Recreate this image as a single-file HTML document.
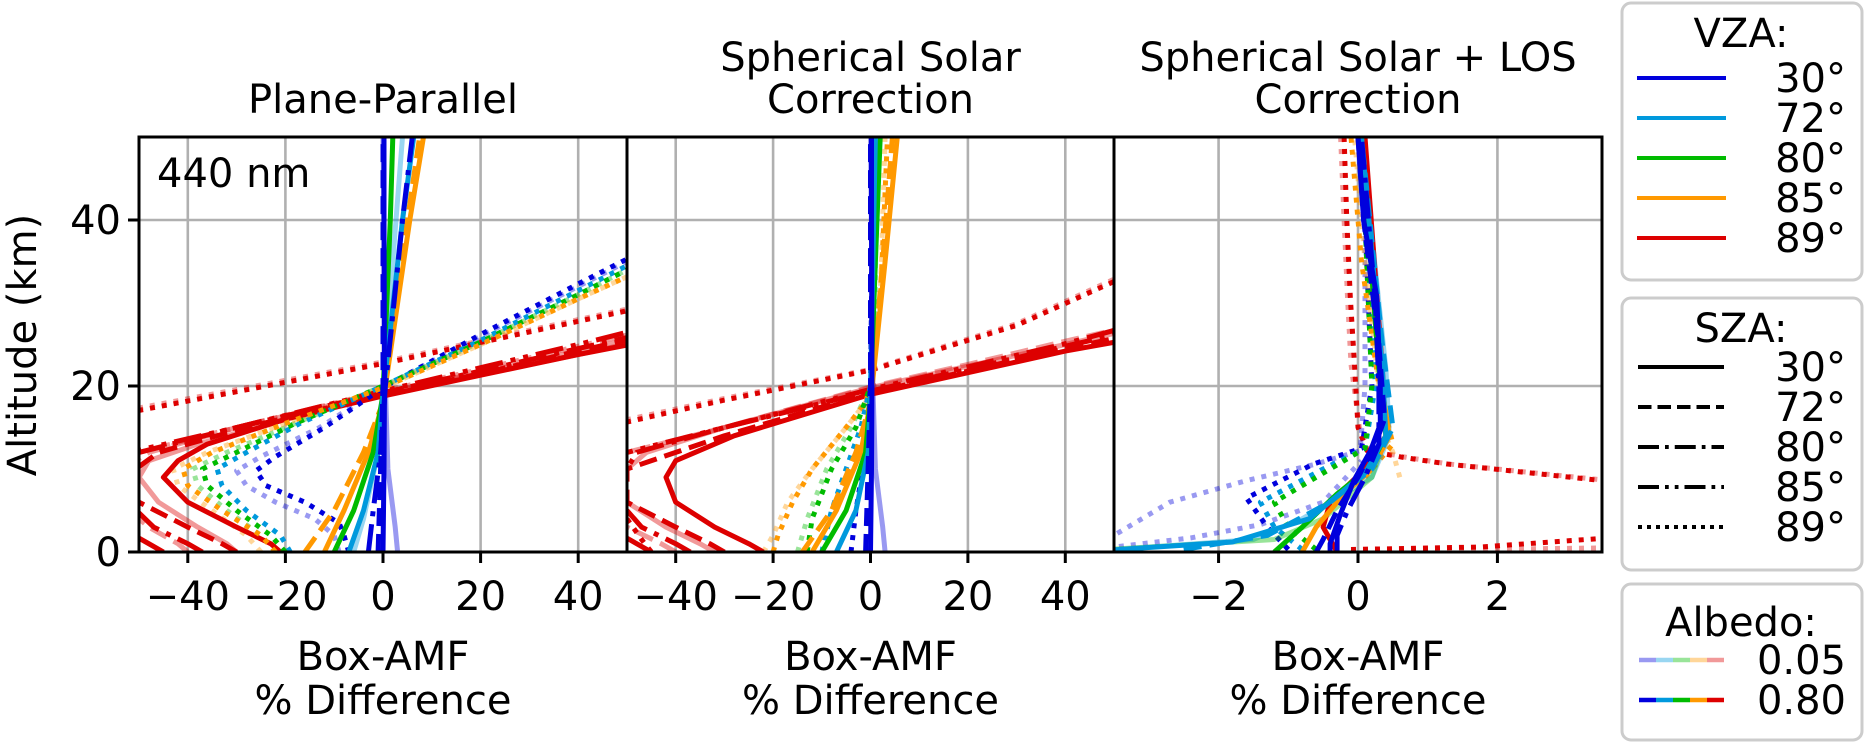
<!DOCTYPE html>
<html><head><meta charset="utf-8">
<style>
html,body{margin:0;padding:0;background:#fff;}
svg{display:block;font-family:"DejaVu Sans","Liberation Sans",sans-serif;}
</style></head>
<body>
<svg id="chart" width="1866" height="745" viewBox="0 0 1866 745" xmlns="http://www.w3.org/2000/svg">
<defs>
<clipPath id="c0"><rect x="139" y="137" width="488" height="415"/></clipPath>
<clipPath id="c1"><rect x="627" y="137" width="487" height="415"/></clipPath>
<clipPath id="c2"><rect x="1114" y="137" width="488" height="415"/></clipPath>
</defs>
<g id="grid"></g>
<g id="curves"></g>
<g id="axes"></g>
<g id="legend"></g>
</svg>
<script>
// ---------- data ----------
const panelTitles = [["Plane-Parallel"],["Spherical Solar","Correction"],["Spherical Solar + LOS","Correction"]];
const panelXTicks = [[-40,-20,0,20,40],[-40,-20,0,20,40],[-2,0,2]];
const yTicks = [0,20,40];
const vzaLabels = ["30°","72°","80°","85°","89°"];
const szaLabels = ["30°","72°","80°","85°","89°"];
const albedoLabels = ["0.05","0.80"];
// curves: [vzaIndex, szaIndex, albedoIndex(0=0.05,1=0.80), values, altitudes]
const panel1Curves = [
 [4,0,0,[-30,-32,-38,-46,-50,-48,-38,-20,0,20,40,55],[0,1,3,6,9,11,13,16,19,21.4,23.8,25.7]],
 [4,1,0,[-40,-42,-48,-54,-56,-48,-30,0,20,40,55],[0,1,3,6,9,12,15,19.2,21.6,24.2,26.2]],
 [4,3,0,[-45,-48,-54,-58,-50,-30,0,20,40,55],[0,1,3,7,12,15,19.4,22,24.8,26.8]],
 [4,4,0,[-55,0,55],[16.8,22.9,29.9]],
 [0,4,0,[-9,-10,-14,-22,-28,-30,-25,-13,0,20,40,55],[0,2,4,6,8,9.8,11.5,15,19.9,26,32,36.5]],
 [2,4,0,[-22,-25,-32,-38,-39,-32,-18,0,20,40,55],[0,2,5,8,10,12,15.5,20,25.3,31,35.5]],
 [3,4,0,[-25,-28,-35,-42,-43,-36,-20,0,20,40,55],[0,2,5,8,10,12,15.5,19.8,25,30.5,34.5]],
 [0,0,0,[3,2.5,1,0.5,0],[0,3,10,20,50]],
 [1,0,0,[-6,-4,-1,0,4],[0,4,12,20,50]],
 [4,0,1,[-21,-23,-30,-40,-45,-42,-36,-20,0,20,40,55],[0,1,3,6,9,11,13,16,18.8,21.3,23.8,25.5]],
 [4,1,1,[-30,-33,-40,-50,-53,-46,-28,0,20,40,55],[0,1,3,6,9,12,15,19,21.5,24.2,26.2]],
 [4,2,1,[-37,-40,-47,-54,-50,-30,0,20,40,55],[0,1,3,7,12,15,19.2,21.8,24.5,26.5]],
 [4,3,1,[-45,-48,-54,-58,-52,-30,0,20,40,55],[0,1,3,7,12,15,19.4,22.2,25,27.2]],
 [4,4,1,[-55,0,55],[16.5,22.7,29.7]],
 [0,4,1,[-7,-8,-9,-16,-24,-26,-22,-12,0,20,40,55],[0,2,3.5,6,8,9.8,11.5,15,19.8,26.2,32.3,36.8]],
 [1,4,1,[-19,-21,-28,-33,-34,-28,-17,0,20,40,55],[0,2,5,8,10,12,15.5,20,25.5,31.5,36]],
 [2,4,1,[-20,-23,-30,-36,-37,-30,-18,0,20,40,55],[0,2,5,8,10,12,15.5,20,25.3,31,35.5]],
 [3,4,1,[-22,-25,-33,-40,-41,-35,-20,0,20,40,55],[0,2,5,8,10,12,15.5,19.8,25,30.5,34.5]],
 [3,0,1,[-12,-8,-3,0,5.5,8.3],[0,5,12,18,40,50]],
 [3,1,1,[-16,-10,-4,0,5,7.5],[0,5,12,18,40,50]],
 [2,0,1,[-10,-6,-2,0,1.5,2],[0,5,12,19,40,50]],
 [1,0,1,[-7,-4,-1,0,4,6.3],[0,5,12,19,40,50]],
 [0,2,1,[-3,-2,-0.5,0.5,4,6],[0,5,12,20,40,50]],
 [0,0,1,[0,0.2,0.3,0.2,0.2],[0,10,20,40,50]],
 [0,1,1,[-1,-0.5,0,0,0],[0,10,20,40,50]]
];
const panel2Curves = [
 [4,0,0,[-32,-35,-42,-50,-52,-46,-30,0,20,40,55],[0,1,3,6,9,12,15,19.8,22.4,25,27]],
 [4,1,0,[-40,-43,-50,-56,-50,-30,0,20,40,55],[0,1,3,7,12,15,19.9,22.6,25.4,27.4]],
 [4,4,0,[-55,-30,0,30,55],[15.3,18.5,22,27.5,34.2]],
 [4,4,1,[-55,-30,0,30,55],[15,18.3,21.9,27.3,33.9]],
 [4,4,1,[-50,-47,-45],[4,1.5,0]],
 [3,4,0,[-22,-20,-17,-12,-5,-1,0,2,3],[0,2,6,10,15,18,20,30,50]],
 [2,4,0,[-15,-13,-9,-4,0,1,1],[0,4,10,15,20,30,50]],
 [0,0,0,[3,2.5,1,0.5,0],[0,3,10,20,50]],
 [4,0,1,[-22,-25,-32,-40,-42,-40,-28,0,20,40,55],[0,1,3,6,9,11,14,19,21.6,24.2,25.8]],
 [4,1,1,[-30,-33,-40,-50,-50,-30,0,20,40,55],[0,1,3,6,10,14,19.2,21.8,24.5,26.3]],
 [4,2,1,[-37,-40,-47,-53,-48,-30,0,20,40,55],[0,1,3,7,12,15,19.4,22,24.8,26.8]],
 [4,3,1,[-45,-48,-54,-58,-50,-30,0,20,40,55],[0,1,3,7,12,15,19.6,22.3,25.1,27.5]],
 [3,4,1,[-20,-19,-16,-12,-5,-1,0,2,3.5],[0,2,6,10,15,18,20,30,50]],
 [2,4,1,[-13,-12,-8,-3,0,0.5,1],[0,4,10,15,20,30,50]],
 [1,4,1,[-10,-8,-5,-2,0,0.5,0.5],[0,5,10,15,20,30,50]],
 [0,4,1,[-4,-3,-1,0,0.2,0.2],[0,5,12,20,30,50]],
 [3,0,1,[-12,-7,-2,0,3,5.5],[0,5,12,18,35,50]],
 [3,1,1,[-14,-8,-3,0,2.5,4.5],[0,5,12,18,35,50]],
 [2,0,1,[-10,-5,-1,0,1,2],[0,5,12,19,35,50]],
 [1,0,1,[-7,-3,-0.5,0,0.5,1],[0,5,12,19,35,50]],
 [0,0,1,[0,0.2,0.3,0.2,0.2],[0,10,20,40,50]],
 [0,1,1,[-1,-0.5,0,0,0],[0,10,20,40,50]]
];
const panel3Curves = [
 [4,4,1,[-0.2,-0.16,-0.11,-0.05,0.0,0.13,0.65,1.28,3.6],[50,40,30.7,22.6,15,12.2,11.4,10.6,8.5]],
 [4,4,0,[-0.25,-0.2,-0.15,-0.1,0.02,0.2,0.7,1.3,3.6],[50,40,30.7,22.6,15,12.2,11.4,10.6,8.6]],
 [4,4,1,[-0.1,0.5,1.76,3.6],[0.3,0.4,0.6,1.7]],
 [4,4,0,[-0.1,1.0,2.5,3.6],[0.2,0.3,0.4,0.5]],
 [0,4,0,[-3.6,-3.0,-2.7,-1.6,-0.6,0.03,0.1,0.1],[1.5,4.5,6,8.6,10.6,12.2,20,50]],
 [0,4,0,[-3.6,-2.4,-1.4,-0.5,0.05],[0.5,1.7,3.3,6,11]],
 [0,4,1,[-1.0,-1.3,-1.6,-0.64,0.05,0.2,0.05],[0.3,3,6.5,10.6,12.5,20,50]],
 [1,4,1,[-0.8,-1.2,-1.4,-0.5,0.1,0.25,0.05],[0.3,3,6,10,12.5,20,50]],
 [2,4,1,[-0.6,-1.0,-1.2,-0.4,0.1,0.2,0.05],[0.3,3,6,10,12.5,20,50]],
 [3,4,0,[0.6,0.5,0.4,0.3,0.1,-0.05],[9,12,14,20,35,50]],
 [3,4,1,[0.1,0.3,0.5,0.3,0.05,-0.1],[9,11,13,20,35,50]],
 [1,0,0,[-3.6,-1.5,-0.8,0.2,0.45,0.4,0.05],[0.2,1.5,4,9,14,22,50]],
 [2,0,0,[-3.6,-1.2,-0.5,0.2,0.4,0.3,0.05],[0.3,1.5,4,9,14,22,50]],
 [4,0,1,[-0.3,-0.5,-0.4,0.1,0.4,0.35,0.1],[0,3,6,10,14,22,50]],
 [3,0,1,[-0.8,-0.6,-0.2,0.2,0.45,0.3,0.05],[0,3,7,10,14,22,50]],
 [2,0,1,[-1.2,-0.8,-0.3,0.15,0.4,0.3,0.05],[0,3,7,10,14,22,50]],
 [1,0,1,[-3.6,-1.8,-0.7,0.1,0.4,0.35,0.05],[0.2,1.2,4,9.5,14,22,50]],
 [1,1,1,[-2.5,-1.3,-0.4,0.2,0.5,0.35,0.05],[0.3,2,6,10,15,25,50]],
 [0,0,1,[-0.4,-0.4,-0.25,-0.06,0.18,0.32,0.32,0.27,0.08,0.0],[0,1,4.6,8.6,12.2,15.4,20,30.7,40,50]],
 [0,1,1,[-0.6,-0.5,-0.3,0.0,0.25,0.38,0.3,0.08,0.0],[0,1.5,5,9,13,16,25,40,50]],
 [0,2,1,[-0.3,-0.3,-0.15,0.1,0.3,0.3,0.25,0.05],[0,2,5,9,13,20,30,50]]
];
const allPanels = [panel1Curves, panel2Curves, panel3Curves];

// ---------- styling / scales ----------
const NS = "http://www.w3.org/2000/svg";
const FS = 40;
const colors = ["#0000dd","#0099dd","#00bb00","#ff9900","#dd0000"];
const dashes = ["", "18,8", "28,8,5,8", "28,8,5,8,5,8", "5,7"];
const panelsPx = [{x0:139,x1:627,d0:-50,d1:50},{x0:627,x1:1114,d0:-50,d1:50},{x0:1114,x1:1602,d0:-3.5,d1:3.5}];
const Y0 = 552, Y1 = 137;
function yScale(km){ return Y0 + (Y1 - Y0) * km / 50; }
function xScale(p, v){ const P = panelsPx[p]; return P.x0 + (P.x1 - P.x0) * (v - P.d0) / (P.d1 - P.d0); }
function mk(tag, attrs, parent){ const e = document.createElementNS(NS, tag); for (const k in attrs) e.setAttribute(k, attrs[k]); parent.appendChild(e); return e; }

const grid = document.getElementById("grid");
const curvesG = document.getElementById("curves");
const axes = document.getElementById("axes");
const legend = document.getElementById("legend");

for (let p = 0; p < 3; p++) {
  const P = panelsPx[p];
  panelXTicks[p].forEach(t => {
    const x = xScale(p, t);
    const gl = mk("line", {x1:x, x2:x, y1:Y1, y2:Y0, stroke:"#b0b0b0", "stroke-width":2.6}, grid);
    
    
  });
  yTicks.forEach(t => {
    const y = yScale(t);
    const gl = mk("line", {x1:P.x0, x2:P.x1, y1:y, y2:y, stroke:"#b0b0b0", "stroke-width":2.6}, grid);
    
    
  });
  const g = mk("g", {"clip-path":"url(#c"+p+")"}, curvesG);
  
  
  allPanels[p].forEach(c => {
    const [vi, si, ai, vals, alts] = c;
    let d = "";
    for (let i = 0; i < vals.length; i++) d += (i ? "L" : "M") + xScale(p, vals[i]).toFixed(1) + "," + yScale(alts[i]).toFixed(1);
    const path = mk("path", {d:d, fill:"none", stroke:colors[vi], "stroke-width":5, "stroke-opacity": ai ? 1 : 0.4, "stroke-linejoin":"round"}, g);
    if (dashes[si]) path.setAttribute("stroke-dasharray", dashes[si]);
    
    
  });
  const fr = mk("rect", {x:P.x0, y:Y1, width:P.x1-P.x0, height:Y0-Y1, fill:"none", stroke:"#000", "stroke-width":3}, axes);
  
  
  panelXTicks[p].forEach(t => {
    const x = xScale(p, t);
    const tk = mk("line", {x1:x, x2:x, y1:Y0, y2:Y0+11, stroke:"#000", "stroke-width":3}, axes);
    
    
    const tl = mk("text", {x:x, y:610, "font-size":FS, "text-anchor":"middle"}, axes);
    tl.textContent = t < 0 ? "\u2212" + Math.abs(t) : String(t);
    
    
  });
  const cx = (P.x0 + P.x1) / 2;
  const xl1 = mk("text", {x:cx, y:670, "font-size":FS, "text-anchor":"middle"}, axes);
  xl1.textContent = "Box-AMF";
  
  
  const xl2 = mk("text", {x:cx, y:714, "font-size":FS, "text-anchor":"middle"}, axes);
  xl2.textContent = "% Difference";
  
  
  const tt = panelTitles[p];
  tt.forEach((line, i) => {
    const y = tt.length === 1 ? 113 : (i === 0 ? 71 : 113);
    const te = mk("text", {x:cx, y:y, "font-size":FS, "text-anchor":"middle"}, axes);
    te.textContent = line;
    
    
  });
}
yTicks.forEach(t => {
  const y = yScale(t);
  const tk = mk("line", {x1:128, x2:139, y1:y, y2:y, stroke:"#000", "stroke-width":3}, axes);
  
  
  const tl = mk("text", {x:121, y:y+14, "font-size":FS, "text-anchor":"end"}, axes);
  tl.textContent = String(t);
  
  
});
const yt = mk("text", {x:0, y:0, "font-size":FS, "text-anchor":"middle", transform:"translate(36,345) rotate(-90)"}, axes);
yt.textContent = "Altitude (km)";


const ann = mk("text", {x:157, y:187, "font-size":FS}, axes);
ann.textContent = "440 nm";



// ---------- legends ----------
function box(y0, y1, name){
  const r = mk("rect", {x:1622, y:y0, width:240, height:y1-y0, rx:9, fill:"#fff", stroke:"#cccccc", "stroke-width":3}, legend);
  
  
}
function ttl(y, txt, name){
  const t = mk("text", {x:1741, y:y+14, "font-size":FS, "text-anchor":"middle"}, legend);
  t.textContent = txt;
  
  
}
function lbl(y, txt){
  const t = mk("text", {x:1846, y:y+14, "font-size":FS, "text-anchor":"end"}, legend);
  t.textContent = txt;
  
  
}
box(3, 280, 'vza-legend');
ttl(33, "VZA:", 'vza-legend-title');
const vzaRows = [78,118,158,198,238];
vzaLabels.forEach((l, i) => {
  const ln = mk("line", {x1:1637, x2:1726, y1:vzaRows[i], y2:vzaRows[i], stroke:colors[i], "stroke-width":4}, legend);
  
  
  lbl(vzaRows[i], l);
});
box(298, 570, 'sza-legend');
ttl(328, "SZA:", 'sza-legend-title');
const szaRows = [367,407,447,487,527];
szaLabels.forEach((l, i) => {
  const ln = mk("line", {x1:1638, x2:1724, y1:szaRows[i], y2:szaRows[i], stroke:"#000", "stroke-width":4}, legend);
  if (dashes[i]) ln.setAttribute("stroke-dasharray", i === 4 ? "4,5" : dashes[i].split(",").map(v=>v*0.75).join(","));
  
  
  lbl(szaRows[i], l);
});
box(584, 740, 'albedo-legend');
ttl(622, "Albedo:", 'albedo-legend-title');
const albRows = [660, 700];
albedoLabels.forEach((l, a) => {
  for (let k = 0; k < 5; k++) {
    const seg = mk("line", {x1:1639 + k*17, x2:1639 + (k+1)*17, y1:albRows[a], y2:albRows[a], stroke:colors[k], "stroke-width":4.5, "stroke-opacity": a ? 1 : 0.4}, legend);
    
    
  }
  lbl(albRows[a], l);
});
</script>
</body></html>
